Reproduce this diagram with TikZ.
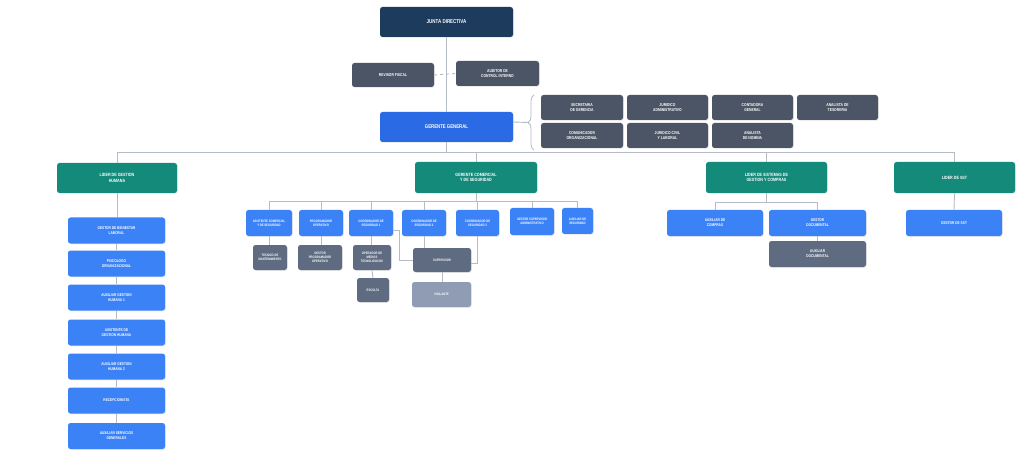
\documentclass[tikz,border=0pt]{standalone}
\usepackage{fontspec}
\setmainfont{Liberation Sans}[FakeStretch=0.8]
\usetikzlibrary{decorations.pathreplacing,shadows}
\definecolor{navy}{HTML}{1D3B5C}
\definecolor{slate}{HTML}{4B5566}
\definecolor{bluebox}{HTML}{3B82F6}
\definecolor{gerblue}{HTML}{2A6AE4}
\definecolor{teal}{HTML}{138A7A}
\definecolor{childgrey}{HTML}{5F6B80}
\definecolor{vigil}{HTML}{8F9CB4}
\definecolor{linegrey}{HTML}{B5BCC5}
\begin{document}
\begin{tikzpicture}[x=1pt,y=-1pt,
  box/.style={rounded corners=2.5pt, text=white, align=center, inner sep=0pt,
    font=\bfseries\fontsize{4}{4.8}\selectfont,
    drop shadow={opacity=0.15, shadow xshift=0.8pt, shadow yshift=-0.8pt}},
  navybox/.style={box, fill=navy, font=\bfseries\fontsize{5.6}{6.4}\selectfont},
  slatebox/.style={box, fill=slate, font=\bfseries\fontsize{4.2}{5}\selectfont},
  gerbox/.style={box, fill=gerblue, font=\bfseries\fontsize{5.4}{6.2}\selectfont},
  tealbox/.style={box, fill=teal, font=\bfseries\fontsize{4.6}{5.4}\selectfont},
  bluebx/.style={box, fill=bluebox},
  greybx/.style={box, fill=childgrey},
  vigbx/.style={box, fill=vigil},
  small/.style={font=\bfseries\fontsize{3.4}{4.1}\selectfont},
  conn/.style={draw=linegrey, line width=0.9pt},
]
\useasboundingbox (0,0) rectangle (1024,454);
\fill[white] (0,0) rectangle (1024,454);

% top
\node[navybox, minimum width=133, minimum height=30] (junta) at (446.5,22) {JUNTA DIRECTIVA};
\node[slatebox, minimum width=82, minimum height=24] (revisor) at (393,75) {REVISOR FISCAL};
\node[slatebox, minimum width=83, minimum height=25] (auditor) at (497.5,73.5) {AUDITOR DE\\CONTROL INTERNO};
\node[gerbox, minimum width=133, minimum height=30] (gerente) at (446.5,127) {GERENTE GENERAL};

% advisors
\node[slatebox, minimum width=82, minimum height=25] (secre) at (582,107.5) {SECRETARIA\\DE GERENCIA};
\node[slatebox, minimum width=81, minimum height=25] (juradm) at (667.5,107.5) {JURIDICO\\ADMINISTRATIVO};
\node[slatebox, minimum width=81, minimum height=25] (conta) at (752.5,107.5) {CONTADORA\\GENERAL};
\node[slatebox, minimum width=81, minimum height=25] (tesor) at (837.5,107.5) {ANALISTA DE\\TESORERIA};
\node[slatebox, minimum width=82, minimum height=25] (comun) at (582,135.5) {COMUNICADOR\\ORGANIZACIONAL};
\node[slatebox, minimum width=81, minimum height=25] (jurciv) at (667.5,135.5) {JURIDICO CIVIL\\Y LABORAL};
\node[slatebox, minimum width=81, minimum height=25] (nomina) at (752.5,135.5) {ANALISTA\\DE NOMINA};

% level 2
\node[tealbox, minimum width=120, minimum height=30] (lidgh) at (117,178) {LIDER DE GESTION\\HUMANA};
\node[tealbox, minimum width=122, minimum height=31] (gercom) at (476,177.5) {GERENTE COMERCIAL\\Y DE SEGURIDAD};
\node[tealbox, minimum width=121, minimum height=31] (lidsis) at (766.5,177.5) {LIDER DE SISTEMAS DE\\GESTION Y COMPRAS};
\node[tealbox, minimum width=121, minimum height=31] (lidsst) at (954.5,177.5) {LIDER DE SST};

% left column
\node[bluebx, minimum width=97, minimum height=26] (gh1) at (116.5,230.5) {GESTOR DE BIENESTAR\\LABORAL};
\node[bluebx, minimum width=97, minimum height=26] (gh2) at (116.5,263.5) {PSICOLOGO\\ORGANIZACIONAL};
\node[bluebx, minimum width=97, minimum height=26] (gh3) at (116.5,297.5) {AUXILIAR GESTION\\HUMANA 1};
\node[bluebx, minimum width=97, minimum height=26] (gh4) at (116.5,332.5) {ASISTENTE DE\\GESTION HUMANA};
\node[bluebx, minimum width=97, minimum height=26] (gh5) at (116.5,366.5) {AUXILIAR GESTION\\HUMANA 2};
\node[bluebx, minimum width=97, minimum height=26] (gh6) at (116.5,400.5) {RECEPCIONISTA};
\node[bluebx, minimum width=97, minimum height=26] (gh7) at (116.5,436) {AUXILIAR SERVICIOS\\GENERALES};

% commercial row
\node[bluebx, small, minimum width=46, minimum height=26] (asis) at (269,223) {ASISTENTE COMERCIAL\\Y DE SEGURIDAD};
\node[bluebx, small, minimum width=44, minimum height=26] (prog) at (321,223) {PROGRAMADOR\\OPERATIVO};
\node[bluebx, small, minimum width=44, minimum height=26] (coo1) at (371,223) {COORDINADOR DE\\SEGURIDAD 1};
\node[bluebx, small, minimum width=44, minimum height=26] (coo2) at (424,223) {COORDINADOR DE\\SEGURIDAD 2};
\node[bluebx, small, minimum width=43, minimum height=26] (coo3) at (477.5,223) {COORDINADOR DE\\SEGURIDAD 3};
\node[bluebx, small, minimum width=44, minimum height=27] (gsup) at (532,221.5) {GESTOR SUPERVISOR\\ADMINISTRATIVO};
\node[bluebx, small, minimum width=31, minimum height=26] (auxseg) at (577.5,221) {AUXILIAR DE\\SEGURIDAD};

\node[greybx, small, minimum width=34, minimum height=25] (tec) at (270,257.5) {TECNICO DE\\MANTENIMIENTO};
\node[greybx, small, minimum width=44, minimum height=25] (gprog) at (320,257.5) {GESTOR\\PROGRAMADOR\\OPERATIVO};
\node[greybx, small, minimum width=38, minimum height=25] (oper) at (372,257.5) {OPERADOR DE\\MEDIOS\\TECNOLOGICOS};
\node[greybx, small, minimum width=32, minimum height=24] (escol) at (373,290) {ESCOLTA};
\node[greybx, small, minimum width=58, minimum height=24] (super) at (442,260) {SUPERVISOR};
\node[vigbx, small, minimum width=59, minimum height=25] (vigil) at (441.5,294.5) {VIGILANTE};

% systems
\node[bluebx, minimum width=96, minimum height=26] (auxcomp) at (715,223) {AUXILIAR DE\\COMPRAS};
\node[bluebx, minimum width=97, minimum height=26] (gdoc) at (817.5,223) {GESTOR\\DOCUMENTAL};
\node[greybx, minimum width=97, minimum height=26] (auxdoc) at (817.5,254) {AUXILIAR\\DOCUMENTAL};

% sst
\node[bluebx, minimum width=96, minimum height=26] (gsst) at (954,223) {GESTOR DE SST};

% connectors
\draw[conn] (junta.south) -- (gerente.north);
\draw[conn, dashed] (revisor.east) -- (auditor.west);
\draw[conn, line width=0.8pt, decorate, decoration={brace, amplitude=6pt}] (534,150) -- (534,95);
\draw[conn] ([yshift=5pt]gerente.east) -- (528,122.5);

\coordinate (mainbus) at (446.5,152);
\draw[conn] (gerente.south) -- (mainbus);
\draw[conn] (lidgh.north |- mainbus) -- (lidsst.north |- mainbus);
\foreach \n in {lidgh,gercom,lidsis,lidsst} \draw[conn] (\n.north |- mainbus) -- (\n.north);

\draw[conn] (lidgh.south) -- (lidgh.south |- gh1.north);
\draw[conn] (gh1) -- (gh2);
\draw[conn] (gh2) -- (gh3);
\draw[conn] (gh3) -- (gh4);
\draw[conn] (gh4) -- (gh5);
\draw[conn] (gh5) -- (gh6);
\draw[conn] (gh6) -- (gh7);

\coordinate (cbus) at (476,201);
\draw[conn] (gercom.south) -- (cbus);
\draw[conn] (asis.north |- cbus) -- (auxseg.north |- cbus);
\foreach \n in {asis,prog,coo1,coo2,coo3,gsup,auxseg} \draw[conn] (\n.north |- cbus) -- (\n.north);
\draw[conn] (asis.south) -- (asis.south |- tec.north);
\draw[conn] (prog.south) -- (prog.south |- gprog.north);
\draw[conn] (coo1.south) -- (coo1.south |- oper.north);
\draw[conn] (oper.south) -- (escol.north);
\draw[conn] ([yshift=-7pt]coo1.east) -- ++(6,0) |- (super.west);
\draw[conn] (coo2.south) -- (coo2.south |- super.north);
\draw[conn] (coo3.south) |- ([yshift=-3pt]super.east);
\draw[conn] (super.south) -- (super.south |- vigil.north);

\coordinate (sbus) at (766.5,202);
\draw[conn] (lidsis.south) -- (sbus);
\draw[conn] (auxcomp.north |- sbus) -- (gdoc.north |- sbus);
\draw[conn] (auxcomp.north |- sbus) -- (auxcomp.north);
\draw[conn] (gdoc.north |- sbus) -- (gdoc.north);
\draw[conn] (gdoc.south) -- (auxdoc.north);

\draw[conn] (lidsst.south) -- (gsst.north);
\end{tikzpicture}
\end{document}
